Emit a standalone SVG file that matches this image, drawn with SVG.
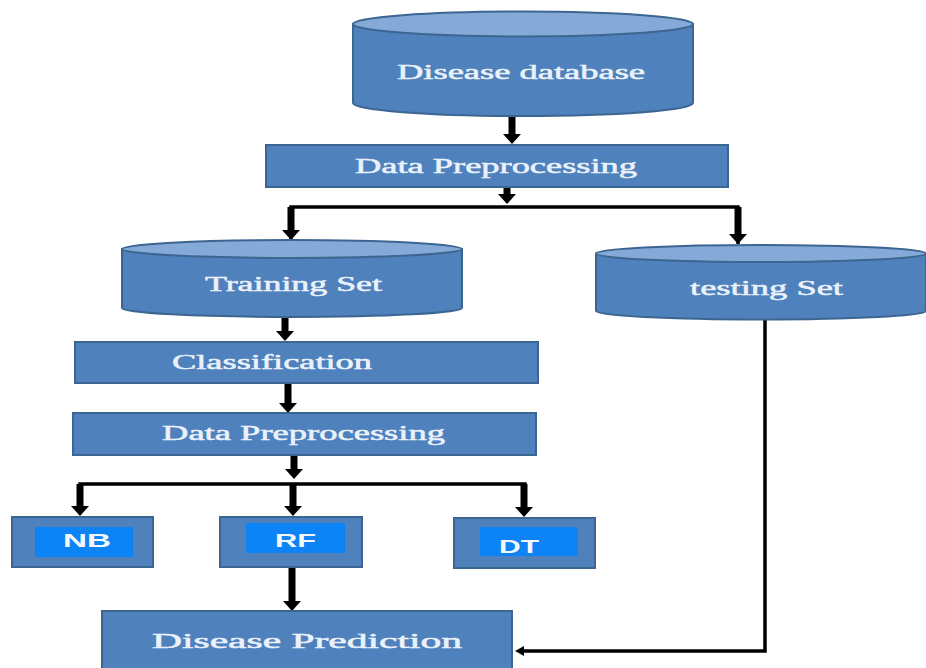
<svg xmlns="http://www.w3.org/2000/svg" width="926" height="668" viewBox="0 0 926 668">
  <style>
    .box { fill: #4f81bd; stroke: #3d6591; stroke-width: 2; }
    .cyl { fill: #4f81bd; stroke: #3d6591; stroke-width: 2; }
    .lid { fill: #86aad8; stroke: #3d6591; stroke-width: 2; }
    .inner { fill: #0d84f6; stroke: none; }
    .lbl { font-family: "Liberation Serif", "Times New Roman", serif; font-size: 20px; fill: #eaf1fa; stroke: #eaf1fa; stroke-width: 0.5; }
    .alg { font-family: "Liberation Sans", Arial, sans-serif; font-size: 18px; font-weight: bold; fill: #f4f8fd; }
    .thick { stroke: #000; stroke-width: 7; fill: none; }
    .thin { stroke: #000; stroke-width: 3.5; fill: none; }
  </style>
  <defs>
    <marker id="head" markerUnits="userSpaceOnUse" viewBox="0 0 10 18" markerWidth="10" markerHeight="18" refX="0" refY="9" orient="auto">
      <path d="M0,0 L10,9 L0,18 Z" fill="#000"/>
    </marker>
    <marker id="headSmall" markerUnits="userSpaceOnUse" viewBox="0 0 9 10" markerWidth="9" markerHeight="10" refX="0" refY="5" orient="auto">
      <path d="M0,0 L9,5 L0,10 Z" fill="#000"/>
    </marker>
  </defs>

  <rect width="926" height="668" fill="#ffffff"/>

  <!-- connectors -->
  <g id="connectors">
    <!-- database to preprocessing -->
    <line class="thick" x1="512" y1="116" x2="512" y2="134" marker-end="url(#head)"/>
    <!-- preprocessing split -->
    <line class="thick" x1="507" y1="187" x2="507" y2="194" marker-end="url(#head)"/>
    <polyline class="thin" points="291,241 291,207 738,207 738,244"/>
    <line class="thick" x1="291" y1="207" x2="291" y2="230" marker-end="url(#head)"/>
    <line class="thick" x1="738" y1="207" x2="738" y2="234" marker-end="url(#head)"/>
    <!-- training set to classification -->
    <line class="thick" x1="285" y1="317" x2="285" y2="331" marker-end="url(#head)"/>
    <!-- classification to preprocessing -->
    <line class="thick" x1="288" y1="383" x2="288" y2="403" marker-end="url(#head)"/>
    <!-- preprocessing to algorithms -->
    <line class="thick" x1="294" y1="456" x2="294" y2="469" marker-end="url(#head)"/>
    <polyline class="thin" points="80,486 80,484 525,484 525,486"/>
    <line class="thick" x1="80" y1="484" x2="80" y2="506" marker-end="url(#head)"/>
    <line class="thick" x1="293" y1="484" x2="293" y2="506" marker-end="url(#head)"/>
    <line class="thick" x1="524" y1="484" x2="524" y2="507" marker-end="url(#head)"/>
    <!-- random forest to prediction -->
    <line class="thick" x1="292" y1="568" x2="292" y2="601" marker-end="url(#head)"/>
    <!-- testing set to prediction -->
    <polyline class="thin" points="765,319 765,651 524,651" marker-end="url(#headSmall)"/>
  </g>

  <!-- Disease database -->
  <g id="disease-database">
    <path class="cyl" d="M353,24 L353,103 A170,13 0 0 0 693,103 L693,24 Z"/>
    <ellipse class="lid" cx="523" cy="24" rx="170" ry="12.5"/>
    <text class="lbl" x="397" y="79" textLength="248" lengthAdjust="spacingAndGlyphs">Disease database</text>
  </g>

  <!-- Data Preprocessing (top) -->
  <g id="data-preprocessing-1">
    <rect class="box" x="266" y="145" width="462" height="42"/>
    <text class="lbl" x="355" y="173" textLength="282" lengthAdjust="spacingAndGlyphs">Data Preprocessing</text>
  </g>

  <!-- Training Set -->
  <g id="training-set">
    <path class="cyl" d="M122,249 L122,308 A170,9 0 0 0 462,308 L462,249 Z"/>
    <ellipse class="lid" cx="292" cy="249" rx="170" ry="9"/>
    <text class="lbl" x="205" y="291" textLength="177" lengthAdjust="spacingAndGlyphs">Training Set</text>
  </g>

  <!-- testing Set -->
  <g id="testing-set">
    <path class="cyl" d="M596,253.5 L596,311 A165,8.5 0 0 0 926,311 L926,253.5 Z"/>
    <ellipse class="lid" cx="761" cy="253.5" rx="165" ry="8.5"/>
    <text class="lbl" x="690" y="295" textLength="153" lengthAdjust="spacingAndGlyphs">testing Set</text>
  </g>

  <!-- Classification -->
  <g id="classification">
    <rect class="box" x="75" y="342" width="463" height="41"/>
    <text class="lbl" x="172" y="369" textLength="200" lengthAdjust="spacingAndGlyphs">Classification</text>
  </g>

  <!-- Data Preprocessing (lower) -->
  <g id="data-preprocessing-2">
    <rect class="box" x="73" y="413" width="463" height="42"/>
    <text class="lbl" x="162" y="440" textLength="283" lengthAdjust="spacingAndGlyphs">Data Preprocessing</text>
  </g>

  <!-- NB -->
  <g id="nb">
    <rect class="box" x="12" y="517" width="141" height="50"/>
    <rect class="inner" x="35" y="527" width="98" height="30"/>
    <text class="alg" x="63" y="547" textLength="48" lengthAdjust="spacingAndGlyphs">NB</text>
  </g>

  <!-- RF -->
  <g id="rf">
    <rect class="box" x="220" y="517" width="142" height="50"/>
    <rect class="inner" x="246" y="523" width="99" height="30"/>
    <text class="alg" x="275" y="547" textLength="41" lengthAdjust="spacingAndGlyphs">RF</text>
  </g>

  <!-- DT -->
  <g id="dt">
    <rect class="box" x="454" y="518" width="141" height="50"/>
    <rect class="inner" x="480" y="527" width="98" height="29"/>
    <text class="alg" x="499" y="553" textLength="40" lengthAdjust="spacingAndGlyphs">DT</text>
  </g>

  <!-- Disease Prediction -->
  <g id="disease-prediction">
    <rect class="box" x="102" y="611" width="410" height="62"/>
    <text class="lbl" x="152" y="648" font-size="21" textLength="310" lengthAdjust="spacingAndGlyphs">Disease Prediction</text>
  </g>
</svg>
